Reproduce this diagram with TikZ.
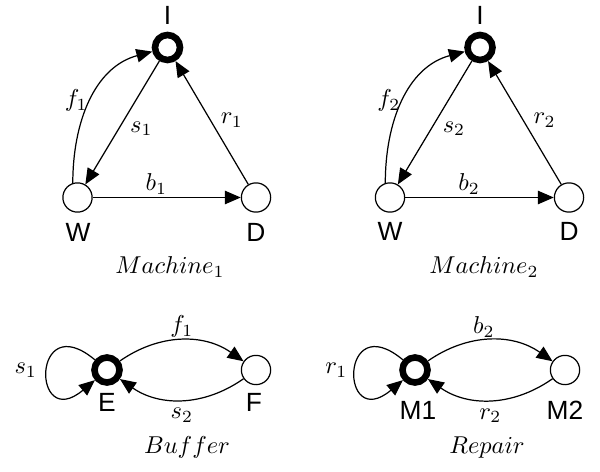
\documentclass[tikz,border=0pt]{standalone}
\usepackage{fontspec}
\setsansfont{Liberation Sans}
\usetikzlibrary{arrows.meta}
\begin{document}
\begin{tikzpicture}[x=0.41pt,y=0.41pt,
  st/.style={circle,draw,line width=0.5pt,minimum size=12pt,inner sep=0pt,fill=white},
  init/.style={circle,draw,line width=2.7pt,minimum size=10.25pt,inner sep=0pt,fill=white},
  lbl/.style={font=\sffamily\fontsize{10.8}{13}\selectfont,inner sep=0pt},
  tr/.style={-{Triangle[length=6.5pt,width=5.5pt]},line width=0.5pt},
  el/.style={inner sep=1pt},
  selfloop/.style={out=140,in=220,distance=34pt}]
\useasboundingbox (0,0) rectangle (600,471);
% Machine 1
\node[init] (I1) at (167.5,423.5) {};
\node[st] (W1) at (77.5,273.5) {};
\node[st] (D1) at (256,273.5) {};
\node[lbl] (I1l) at (167.5,456) {I};
\node[lbl] (W1l) at (78,239) {W};
\node[lbl] (D1l) at (256,239) {D};
\draw[tr] (W1) -- node[pos=0.43,above,el]{$b_1$} (D1);
\draw[tr] (I1) -- node[pos=0.55,right=3.5pt,el]{$s_1$} (W1);
\draw[tr] (D1) -- node[pos=0.52,right=3pt,el]{$r_1$} (I1);
\draw[tr] (W1.108) to[out=90,in=195] node[pos=0.5,left,el]{$f_1$} (I1);
\node (M1cap) at (170,204) {$Machine_1$};
% Machine 2
\node[init] (I2) at (480,423.5) {};
\node[st] (W2) at (390,273.5) {};
\node[st] (D2) at (569,273.5) {};
\node[lbl] (I2l) at (480,456) {I};
\node[lbl] (W2l) at (390,240) {W};
\node[lbl] (D2l) at (569,240) {D};
\draw[tr] (W2) -- node[pos=0.43,above,el]{$b_2$} (D2);
\draw[tr] (I2) -- node[pos=0.55,right=3.5pt,el]{$s_2$} (W2);
\draw[tr] (D2) -- node[pos=0.52,right=3pt,el]{$r_2$} (I2);
\draw[tr] (W2.108) to[out=90,in=195] node[pos=0.5,left,el]{$f_2$} (I2);
\node (M2cap) at (484,204) {$Machine_2$};
% Buffer
\node[init] (E) at (107,101) {};
\node[st] (F) at (256,101) {};
\node[lbl] (El) at (107,69) {E};
\node[lbl] (Fl) at (254,69) {F};
\draw[tr] (E) to[selfloop] node[left=3pt,el]{$s_1$} (E);
\draw[tr] (E) to[bend left=35] node[above,el]{$f_1$} (F);
\draw[tr] (F) to[bend left=35] node[below]{$s_2$} (E);
\node (Bcap) at (187,24) {$Buffer$};
% Repair
\node[init] (M1) at (415,101) {};
\node[st] (M2) at (565,101) {};
\node[lbl] (M1l) at (418,61) {M1};
\node[lbl] (M2l) at (565,61) {M2};
\draw[tr] (M1) to[selfloop] node[left=2pt,el]{$r_1$} (M1);
\draw[tr] (M1) to[bend left=35] node[pos=0.45,above,el]{$b_2$} (M2);
\draw[tr] (M2) to[bend left=35] node[pos=0.5,below]{$r_2$} (M1);
\node (Rcap) at (487,23) {$Repair$};
\end{tikzpicture}
\end{document}
